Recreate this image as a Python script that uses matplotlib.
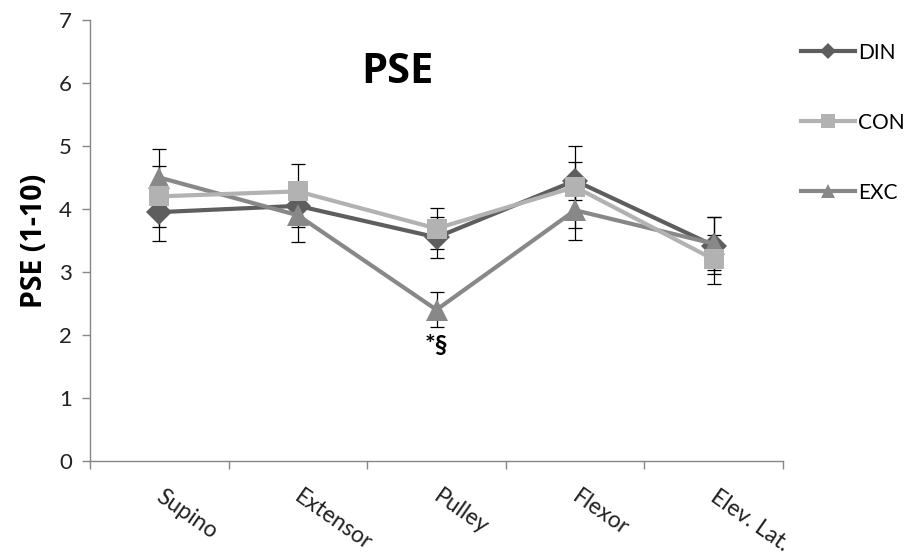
import matplotlib
matplotlib.use("Agg")
import matplotlib.pyplot as plt
from matplotlib.lines import Line2D
import matplotlib.transforms as mtransforms

categories = ["Supino", "Extensor", "Pulley", "Flexor", "Elev. Lat."]
din = [3.95, 4.05, 3.55, 4.45, 3.42]
con = [4.20, 4.28, 3.69, 4.35, 3.20]
exc = [4.50, 3.90, 2.40, 3.98, 3.45]
din_err = [0.45, 0.33, 0.32, 0.30, 0.45]
con_err = [0.49, 0.44, 0.32, 0.65, 0.39]
exc_err = [0.45, 0.43, 0.28, 0.47, 0.42]
yticks = [0, 1, 2, 3, 4, 5, 6, 7]

plt.rcParams['font.family'] = ['Lato', 'DejaVu Sans']

fig = plt.figure(figsize=(9.08, 5.54), dpi=100)
ax = fig.add_axes([90/908, 93/554, 693/908, 441/554])

x = list(range(len(categories)))
series = [
    ("DIN", din, din_err, "#5e5e5e", "D", 13, 3),
    ("EXC", exc, exc_err, "#888888", "^", 16, 4),
    ("CON", con, con_err, "#b2b2b2", "s", 15, 5),
]
handles = {}
for name, vals, errs, col, mk, ms, z in series:
    ax.errorbar(x, vals, yerr=errs, fmt='none', ecolor='black', elinewidth=0.9,
                capsize=5, capthick=0.9, zorder=2)
    ax.plot(x, vals, color=col, lw=3.0, zorder=z, solid_capstyle='round')
    ax.plot(x, vals, linestyle='none', marker=mk, ms=ms, color=col, zorder=z + 0.5,
            markeredgewidth=0)
    handles[name] = Line2D([], [], color=col, lw=3.0, marker=mk, ms=ms * 0.65,
                           markeredgewidth=0)

ax.set_xlim(-0.5, len(categories) - 0.5)
ax.set_ylim(0, 7)
ax.set_yticks(yticks)
ax.set_yticklabels([str(t) for t in yticks], fontsize=16, color='#222222')
ax.set_xticks(x)
ax.set_xticklabels([])
ax.tick_params(axis='x', length=0)
ax.set_xticks([i - 0.5 for i in range(len(categories) + 1)], minor=True)
ax.tick_params(axis='x', which='minor', length=6, color='#868686', width=1)
ax.tick_params(axis='y', length=6, color='#868686', width=1, pad=7)

lbl_trans = ax.get_xaxis_transform() + mtransforms.ScaledTranslation(
    -7/100, -25/100, fig.dpi_scale_trans)
for xi, name in zip(x, categories):
    ax.text(xi, 0, name, transform=lbl_trans, fontsize=16.5, rotation=-35,
            ha='left', va='top', color='#222222', clip_on=False)

for s in ['top', 'right']:
    ax.spines[s].set_visible(False)
for s in ['left', 'bottom']:
    ax.spines[s].set_color('#868686')
    ax.spines[s].set_linewidth(1)

ax.set_ylabel("PSE (1-10)", fontsize=20.5, fontweight='bold', labelpad=7,
              family=['Open Sans', 'DejaVu Sans'])
ax.text(0.444, 0.882, "PSE", transform=ax.transAxes, fontsize=30,
        fontweight='bold', ha='center', va='center',
        family=['Open Sans', 'DejaVu Sans'])
ax.text(2, 1.84, "*§", fontsize=18, fontweight='bold', ha='center', va='center')

fig.legend([handles["DIN"], handles["CON"], handles["EXC"]], ["DIN", "CON", "EXC"],
           loc='upper left', bbox_to_anchor=(782/908, 1 - 24/554), frameon=False,
           fontsize=15, labelspacing=2.4, handlelength=2.6, handletextpad=0.15)

fig.savefig("out.png", dpi=100)
